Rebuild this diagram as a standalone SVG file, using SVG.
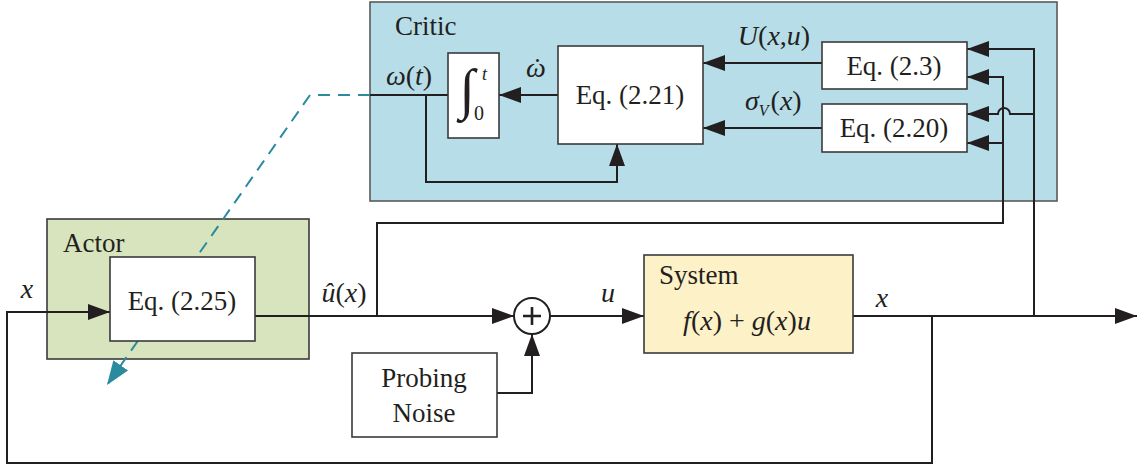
<svg xmlns="http://www.w3.org/2000/svg" width="1137" height="466" viewBox="0 0 1137 466">
<defs>
<marker id="ah" markerUnits="userSpaceOnUse" markerWidth="24" markerHeight="18" refX="22" refY="8" orient="auto">
<path d="M0,0 L22,8 L0,16 Z" fill="#231f20" stroke="none"/>
</marker>
<marker id="ahT" markerUnits="userSpaceOnUse" markerWidth="26" markerHeight="20" refX="24" refY="9" orient="auto">
<path d="M0,0 L24,9 L0,18 Z" fill="#2a8a9e" stroke="none"/>
</marker>
</defs>

<g id="critic">
<rect x="370" y="2" width="687" height="199" fill="#b7dde8" stroke="#5a5a5a" stroke-width="1.6"/>
<text font-family="Liberation Serif, serif" font-size="27" fill="#231f20" x="395" y="35">Critic</text>
</g>

<g id="actor">
<rect x="47" y="219" width="262" height="140" fill="#d7e4bd" stroke="#3a3a3a" stroke-width="1.6"/>
<text font-family="Liberation Serif, serif" font-size="27" fill="#231f20" x="63" y="252">Actor</text>
</g>

<g id="connectors">
<path d="M370,95 H310 L107,385" fill="none" stroke="#2a8a9e" stroke-width="2" stroke-dasharray="12,8" marker-end="url(#ahT)"/>
<g fill="none" stroke="#231f20" stroke-width="2">
<path d="M448,95 H370"/>
<path d="M558,95 H499" marker-end="url(#ah)"/>
<path d="M426,95 V182 H617 V144" marker-end="url(#ah)"/>
<path d="M822,63 H703" marker-end="url(#ah)"/>
<path d="M822,128 H703" marker-end="url(#ah)"/>
<path d="M1034,316 V49 H967" marker-end="url(#ah)"/>
<path d="M1034,114 H1010 A6,6 0 0 0 998,114 H967" marker-end="url(#ah)"/>
<path d="M377,316 V223 H1003 V77 H967" marker-end="url(#ah)"/>
<path d="M1003,143 H967" marker-end="url(#ah)"/>
<path d="M255,316 H514" marker-end="url(#ah)"/>
<path d="M497,393 H532 V334" marker-end="url(#ah)"/>
<path d="M550,316 H644" marker-end="url(#ah)"/>
<path d="M853,316 H1137" marker-end="url(#ah)"/>
<path d="M932,316 V463 H7 V312 H110" marker-end="url(#ah)"/>
</g>
<g fill="#231f20" stroke="none">
<text font-family="Liberation Serif, serif" font-size="28" font-style="italic" text-anchor="middle" x="409" y="85">ω<tspan font-style="normal">(</tspan>t<tspan font-style="normal">)</tspan></text>
<text font-family="Liberation Serif, serif" font-size="28" font-style="italic" x="526" y="77">ω<tspan dx="-13" font-style="normal">˙</tspan></text>
<text font-family="Liberation Serif, serif" font-size="28" font-style="italic" text-anchor="middle" x="774" y="45">U<tspan font-style="normal">(</tspan>x<tspan font-style="normal">,</tspan>u<tspan font-style="normal">)</tspan></text>
<text font-family="Liberation Serif, serif" font-size="28" font-style="italic" x="745" y="110">σ<tspan font-size="16" dy="6">V</tspan><tspan font-style="normal" dy="-6" dx="2">(</tspan>x<tspan font-style="normal">)</tspan></text>
<text font-family="Liberation Serif, serif" font-size="28" font-style="italic" text-anchor="middle" x="344" y="302">û<tspan font-style="normal">(</tspan>x<tspan font-style="normal">)</tspan></text>
<text font-family="Liberation Serif, serif" font-size="28" font-style="italic" text-anchor="middle" x="27" y="298">x</text>
<text font-family="Liberation Serif, serif" font-size="28" font-style="italic" text-anchor="middle" x="608" y="302">u</text>
<text font-family="Liberation Serif, serif" font-size="28" font-style="italic" text-anchor="middle" x="882" y="307">x</text>
</g>
</g>

<g id="integrator">
<rect x="448" y="53" width="51" height="85" fill="#fff" stroke="#3a3a3a" stroke-width="1.6"/>
<text font-family="Liberation Serif, serif" font-size="56" fill="#231f20" text-anchor="middle" x="467" y="108">∫</text>
<text font-family="Liberation Serif, serif" font-size="18" font-style="italic" fill="#231f20" x="482" y="80">t</text>
<text font-family="Liberation Serif, serif" font-size="20" fill="#231f20" x="474" y="120">0</text>
</g>

<g id="eq221">
<rect x="558" y="46" width="145" height="98" fill="#fff" stroke="#3a3a3a" stroke-width="1.6"/>
<text font-family="Liberation Serif, serif" font-size="27" fill="#231f20" text-anchor="middle" x="630" y="104">Eq. (2.21)</text>
</g>

<g id="eq23">
<rect x="822" y="42" width="145" height="47" fill="#fff" stroke="#3a3a3a" stroke-width="1.6"/>
<text font-family="Liberation Serif, serif" font-size="27" fill="#231f20" text-anchor="middle" x="894" y="75">Eq. (2.3)</text>
</g>

<g id="eq220">
<rect x="822" y="104" width="145" height="48" fill="#fff" stroke="#3a3a3a" stroke-width="1.6"/>
<text font-family="Liberation Serif, serif" font-size="27" fill="#231f20" text-anchor="middle" x="894" y="137">Eq. (2.20)</text>
</g>

<g id="eq225">
<rect x="110" y="257" width="145" height="84" fill="#fff" stroke="#3a3a3a" stroke-width="1.6"/>
<text font-family="Liberation Serif, serif" font-size="27" fill="#231f20" text-anchor="middle" x="182" y="310">Eq. (2.25)</text>
</g>

<g id="sum">
<circle cx="532" cy="316" r="18" fill="#fff" stroke="#231f20" stroke-width="2"/>
<path d="M532,307 V325 M523,316 H541" stroke="#231f20" stroke-width="2.6"/>
</g>

<g id="noise">
<rect x="352" y="353" width="145" height="84" fill="#fff" stroke="#3a3a3a" stroke-width="1.6"/>
<text font-family="Liberation Serif, serif" font-size="27" fill="#231f20" text-anchor="middle" x="424" y="387">Probing</text>
<text font-family="Liberation Serif, serif" font-size="27" fill="#231f20" text-anchor="middle" x="424" y="422">Noise</text>
</g>

<g id="system">
<rect x="644" y="255" width="209" height="98" fill="#fdf1c7" stroke="#3a3a3a" stroke-width="1.6"/>
<text font-family="Liberation Serif, serif" font-size="27" fill="#231f20" x="659" y="284">System</text>
<text font-family="Liberation Serif, serif" font-size="28" font-style="italic" fill="#231f20" text-anchor="middle" x="747" y="330">f<tspan font-style="normal">(</tspan>x<tspan font-style="normal">) + </tspan>g<tspan font-style="normal">(</tspan>x<tspan font-style="normal">)</tspan>u</text>
</g>
</svg>
